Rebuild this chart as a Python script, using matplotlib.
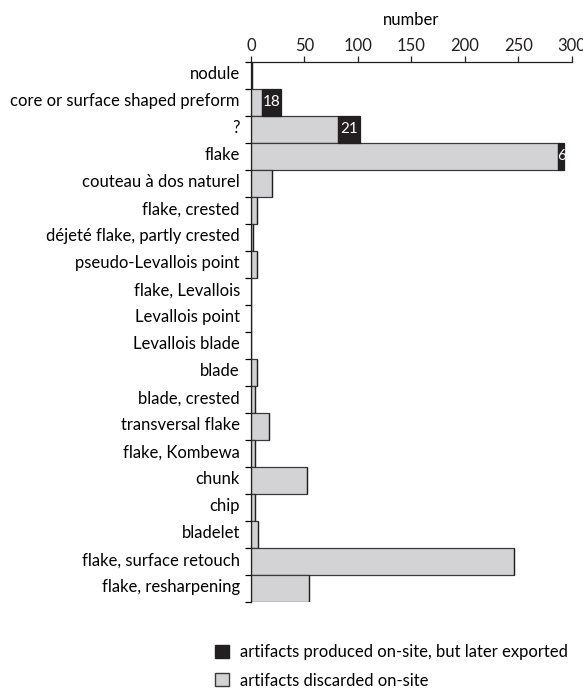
import numpy as np
import matplotlib.pyplot as plt
from matplotlib.patches import Patch

# ---------------- data ----------------
categories = ["nodule", "core or surface shaped preform", "?", "flake",
              "couteau à dos naturel", "flake, crested", "déjeté flake, partly crested",
              "pseudo-Levallois point", "flake, Levallois", "Levallois point",
              "Levallois blade", "blade", "blade, crested", "transversal flake",
              "flake, Kombewa", "chunk", "chip", "bladelet",
              "flake, surface retouch", "flake, resharpening"]
discarded = [1, 10, 81, 287, 20, 6, 2, 6, 0, 0, 0, 6, 4, 17, 4, 52, 4, 7, 246, 54]
exported = [0, 18, 21, 6, 0, 0, 0, 0, 0, 0, 0, 0, 0, 0, 0, 0, 0, 0, 0, 0]
xticks = [0, 50, 100, 150, 200, 250, 300]

light = "#d3d3d5"
dark = "#231f20"
edge = "#3a3a3a"

plt.rcParams['font.family'] = ['Lato', 'DejaVu Sans']

fig = plt.figure(figsize=(5.83, 6.88), dpi=100)
ax = fig.add_axes([0.4305, 0.125, 0.5506, 0.785])

y = np.arange(len(categories))
ax.barh(y, discarded, height=1.0, color=light, edgecolor=edge, linewidth=0.9)
bars_exp = ax.barh(y, exported, left=discarded, height=1.0, color=dark,
                   edgecolor=dark, linewidth=0.9)

# numbers in the exported segments
for b, v, d in zip(bars_exp, exported, discarded):
    if v > 0:
        t = ax.text(d + v / 2, b.get_y() + 0.5, str(v), color="white",
                    ha="center", va="center", fontsize=11)
        t.set_clip_path(b)

ax.set_xlim(0, 300)
ax.set_ylim(len(categories) - 0.5, -0.5)
ax.xaxis.tick_top()
ax.xaxis.set_label_position("top")
ax.set_xticks(xticks)
ax.set_xlabel("number", fontsize=12, labelpad=9)
ax.tick_params(axis="x", direction="out", length=4, width=0.9, labelsize=12,
               pad=2, colors="#231f20")

ax.set_yticks(y - 0.1)
ax.set_yticklabels(categories, fontsize=12)
ax.tick_params(axis="y", which="major", length=0, pad=8)
ax.set_yticks(np.arange(len(categories) + 1) - 0.5, minor=True)
ax.tick_params(axis="y", which="minor", direction="out", length=4, width=0.9)

for s in ["right", "bottom"]:
    ax.spines[s].set_visible(False)
for s in ["top", "left"]:
    ax.spines[s].set_linewidth(0.9)
    ax.spines[s].set_color("#231f20")

handles = [Patch(facecolor=dark, edgecolor=dark, label="artifacts produced on-site, but later exported"),
           Patch(facecolor=light, edgecolor=edge, label="artifacts discarded on-site")]
fig.legend(handles=handles, loc="upper left", bbox_to_anchor=(215 / 583, 1 - 644 / 688),
           frameon=False, fontsize=12, handlelength=0.85, handleheight=0.85,
           handletextpad=0.65, labelspacing=0.75, borderpad=0, borderaxespad=0)

fig.savefig("out.png", dpi=100)
